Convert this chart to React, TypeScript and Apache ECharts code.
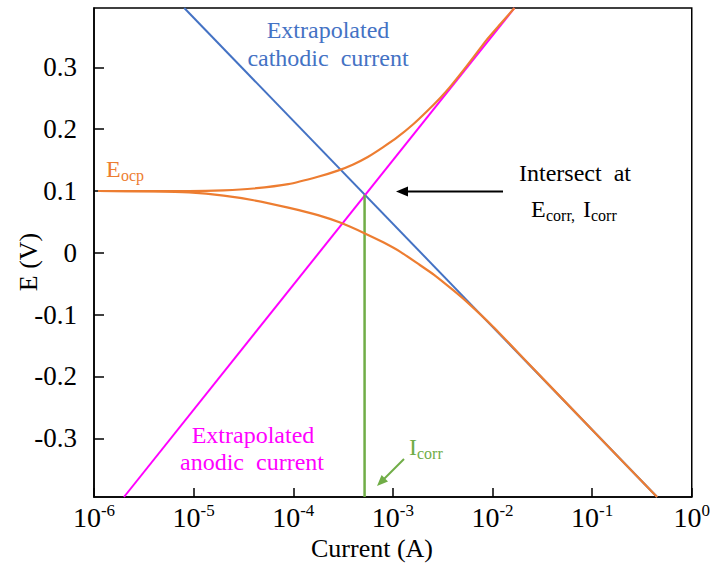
import React, { useEffect, useRef } from "react";
import * as echarts from "echarts";

// ---- data ----
const xTickExponents = [-6, -5, -4, -3, -2, -1, 0];
const yTickValues = [-0.3, -0.2, -0.1, 0, 0.1, 0.2, 0.3];

// Extrapolated Tafel lines (current A, potential V)
const cathodicCurrent = [8.05e-6, 0.449];
const cathodicPotential = [0.396, -0.395];
const anodicCurrent = [2.0e-6, 1.66e-2];
const anodicPotential = [-0.395, 0.396];

// Measured polarisation curve, anodic (upper) branch
const upperCurrent = [1.1e-6, 4.0e-6, 9.0e-6, 2.0e-5, 4.0e-5, 8.9e-5, 1.77e-4, 2.8e-4, 4.0e-4, 5.6e-4, 8.0e-4, 1.11e-3, 1.6e-3, 2.2e-3, 3.0e-3, 3.73e-3, 5.5e-3, 8.7e-3, 1.2e-2, 1.66e-2];
const upperPotential = [0.1, 0.0998, 0.0998, 0.101, 0.104, 0.111, 0.123, 0.133, 0.143, 0.155, 0.171, 0.187, 0.208, 0.229, 0.251, 0.268, 0.302, 0.344, 0.37, 0.396];

// Measured polarisation curve, cathodic (lower) branch
const lowerCurrent = [1.1e-6, 4.0e-6, 9.0e-6, 2.0e-5, 4.0e-5, 8.9e-5, 1.77e-4, 3.0e-4, 5.3e-4, 8.0e-4, 1.19e-3, 1.8e-3, 2.59e-3, 4.0e-3, 5.5e-3, 1.02e-2, 2.03e-2, 1.08e-1, 4.49e-1];
const lowerPotential = [0.1, 0.0993, 0.0976, 0.0925, 0.085, 0.073, 0.061, 0.0485, 0.031, 0.017, 0.0016, -0.018, -0.0356, -0.06, -0.079, -0.12, -0.17, -0.292, -0.395];

// Corrosion point
const iCorr = 5.2e-4;
const eCorr = 0.094;

const X_MIN = 1e-6;
const X_MAX = 1;
const Y_MIN = -0.395;
const Y_MAX = 0.396;

const SERIF = "Liberation Serif";
const ORANGE = "#ED7D31";
const BLUE = "#4472C4";
const MAGENTA = "#FF00FF";
const GREEN = "#70AD47";

const zip = (xs: number[], ys: number[]) => xs.map((x, i) => [x, ys[i]]);

function txt(text: string, x: number, y: number, color: string, size: number, align = "left", extra: any = {}) {
  return {
    type: "text",
    x,
    y,
    silent: true,
    ...extra,
    style: {
      text,
      fill: color,
      fontSize: size,
      fontFamily: SERIF,
      align,
      textAlign: align,
      verticalAlign: "middle",
      textVerticalAlign: "middle",
    },
  };
}

export default function App() {
  const ref = useRef<HTMLDivElement>(null);

  useEffect(() => {
    document.body.style.margin = "0";
    if (!ref.current) return;
    const chart = echarts.init(ref.current, undefined, { renderer: "svg" });

    const expOf = (v: number) => Math.round(Math.log10(v));

    const lineSeries = (name: string, data: number[][], color: string, width: number, smooth: number | boolean = false) => ({
      name,
      type: "line",
      data,
      smooth,
      showSymbol: false,
      symbol: "none",
      lineStyle: { color, width },
      silent: true,
    });

    const option: any = {
      animation: false,
      backgroundColor: "#fff",
      textStyle: { fontFamily: SERIF },
      grid: {
        left: 94,
        right: 16,
        top: 8,
        bottom: 68,
        show: true,
        borderColor: "#000",
        borderWidth: 1.5,
        backgroundColor: "transparent",
      },
      xAxis: {
        type: "log",
        logBase: 10,
        min: X_MIN,
        max: X_MAX,
        splitLine: { show: false },
        minorTick: { show: false },
        axisLine: { show: true, onZero: false, lineStyle: { color: "#000", width: 1.5 } },
        axisTick: { show: true, inside: true, length: 9, lineStyle: { color: "#000", width: 1.5 } },
        axisLabel: {
          margin: 5,
          fontFamily: SERIF,
          formatter: (v: number) => `{a|10}{b|${expOf(v)}}`,
          rich: {
            a: { fontSize: 28, fontFamily: SERIF, color: "#000", lineHeight: 30 },
            b: { fontSize: 17, fontFamily: SERIF, color: "#000", lineHeight: 14, verticalAlign: "top" },
          },
        },
      },
      yAxis: {
        type: "value",
        min: Y_MIN,
        max: Y_MAX,
        splitLine: { show: false },
        axisLine: { show: true, onZero: false, lineStyle: { color: "#000", width: 1.5 } },
        axisTick: {
          show: true,
          inside: true,
          length: 10,
          customValues: yTickValues,
          lineStyle: { color: "#000", width: 1.5 },
        },
        axisLabel: {
          margin: 17,
          customValues: yTickValues,
          fontSize: 27,
          fontFamily: SERIF,
          color: "#000",
          formatter: (v: number) => (Math.abs(v) < 1e-9 ? "0" : v.toFixed(1)),
        },
      },
      series: [
        lineSeries("Extrapolated cathodic current", zip(cathodicCurrent, cathodicPotential), BLUE, 2),
        lineSeries("Extrapolated anodic current", zip(anodicCurrent, anodicPotential), MAGENTA, 2),
        lineSeries("Icorr", [[iCorr, Y_MIN], [iCorr, eCorr]], GREEN, 2.5),
        lineSeries("Anodic branch", zip(upperCurrent, upperPotential), ORANGE, 2.2, 0.15),
        lineSeries("Cathodic branch", zip(lowerCurrent, lowerPotential), ORANGE, 2.2, 0.15),
      ],
      graphic: [
        // axis names
        txt("Current (A)", 372, 548, "#000", 26, "center"),
        txt("E (V)", 28, 262, "#000", 26, "center", { rotation: Math.PI / 2 }),
        // cathodic annotation
        txt("Extrapolated", 328, 30, BLUE, 24, "center"),
        txt("cathodic  current", 328, 58, BLUE, 24, "center"),
        // anodic annotation
        txt("Extrapolated", 253, 435, MAGENTA, 24, "center"),
        txt("anodic  current", 252, 462, MAGENTA, 24, "center"),
        // Eocp
        txt("E", 106, 169, ORANGE, 24, "left"),
        txt("ocp", 121, 175, ORANGE, 16, "left"),
        // Intersect annotation
        txt("Intersect  at", 575, 173, "#000", 24, "center"),
        txt("E", 531, 209, "#000", 24, "left"),
        txt("corr,", 546, 215, "#000", 16, "left"),
        txt("I", 583, 209, "#000", 24, "left"),
        txt("corr", 591, 215, "#000", 16, "left"),
        {
          type: "line",
          silent: true,
          shape: { x1: 503, y1: 191.5, x2: 405, y2: 191.5 },
          style: { stroke: "#000", lineWidth: 2 },
        },
        {
          type: "polygon",
          silent: true,
          shape: { points: [[396, 191.5], [408, 186.5], [408, 196.5]] },
          style: { fill: "#000" },
        },
        // Icorr label
        txt("I", 409, 447, GREEN, 24, "left"),
        txt("corr", 417, 453, GREEN, 16, "left"),
        {
          type: "line",
          silent: true,
          shape: { x1: 404, y1: 459, x2: 384, y2: 479 },
          style: { stroke: GREEN, lineWidth: 2 },
        },
        {
          type: "polygon",
          silent: true,
          shape: { points: [[377, 486], [388, 481.4], [381.6, 475]] },
          style: { fill: GREEN },
        },
      ],
    };

    chart.setOption(option);
    return () => chart.dispose();
  }, []);

  return <div ref={ref} style={{ width: 713, height: 565 }} />;
}
